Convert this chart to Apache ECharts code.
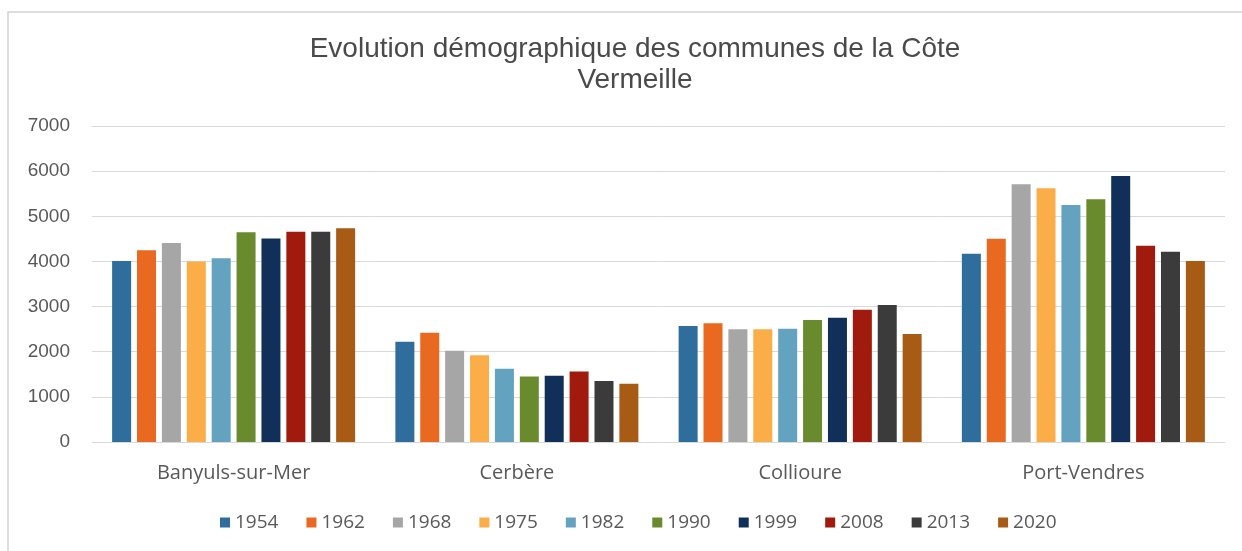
<!DOCTYPE html>
<html>
<head>
<meta charset="utf-8">
<script src="https://cdn.jsdelivr.net/npm/echarts@6/dist/echarts.min.js"></script>
<style>
  html, body { margin: 0; padding: 0; background: #fff; }
  #chart { width: 1242px; height: 551px; }
</style>
</head>
<body>
<div id="chart"></div>
<script>
// communes (axe des x)
const communes = ['Banyuls-sur-Mer', 'Cerbère', 'Collioure', 'Port-Vendres']
const annees = ['1954', '1962', '1968', '1975', '1982', '1990', '1999', '2008', '2013', '2020']
const couleurs = ['#2e6d9c', '#e8691f', '#a6a6a6', '#fbad47', '#64a3c0', '#6a8b2d', '#10305a', '#a01a0d', '#3b3b3b', '#a85b14']

// population par année, dans l'ordre des communes
const pop1954 = [4010, 2220, 2570, 4170]
const pop1962 = [4250, 2420, 2630, 4500]
const pop1968 = [4410, 2020, 2500, 5710]
const pop1975 = [4000, 1920, 2495, 5620]
const pop1982 = [4070, 1620, 2510, 5250]
const pop1990 = [4645, 1450, 2700, 5375]
const pop1999 = [4510, 1470, 2755, 5890]
const pop2008 = [4660, 1560, 2930, 4350]
const pop2013 = [4660, 1350, 3035, 4215]
const pop2020 = [4735, 1290, 2395, 4010]
const valeurs = [pop1954, pop1962, pop1968, pop1975, pop1982, pop1990, pop1999, pop2008, pop2013, pop2020]

const chart = echarts.init(document.getElementById('chart'))
chart.setOption({
  animation: false,
  backgroundColor: '#fff',
  color: couleurs,
  graphic: [
    {
      type: 'polyline',
      shape: { points: [[8, 551], [8, 12], [1242, 12]] },
      style: { stroke: '#d4d4d4', lineWidth: 1.5, fill: null }
    }
  ],
  title: {
    text: 'Evolution démographique des communes de la Côte\nVermeille',
    left: 630,
    textAlign: 'center',
    top: 29,
    textStyle: {
      fontFamily: 'Liberation Sans',
      fontSize: 28,
      fontWeight: 'normal',
      color: '#4a4a4a',
      lineHeight: 31
    }
  },
  legend: {
    data: annees,
    bottom: 14,
    left: 215,
    itemWidth: 10,
    itemHeight: 10,
    itemGap: 28,
    icon: 'rect',
    textStyle: { fontFamily: 'Open Sans', fontSize: 19, color: '#595959' }
  },
  grid: { left: 92, right: 17, top: 126, bottom: 109, containLabel: false },
  xAxis: {
    type: 'category',
    data: communes,
    axisTick: { show: false },
    axisLine: { lineStyle: { color: '#d9d9d9' } },
    axisLabel: { fontFamily: 'Open Sans', fontSize: 20, color: '#595959', margin: 21 }
  },
  yAxis: {
    type: 'value',
    min: 0,
    max: 7000,
    interval: 1000,
    axisLine: { show: false },
    axisTick: { show: false },
    splitLine: { lineStyle: { color: '#d9d9d9' } },
    axisLabel: {
      fontFamily: 'Liberation Sans',
      fontSize: 19,
      color: '#595959',
      margin: 22,
      formatter: v => String(v)
    }
  },
  series: annees.map((a, i) => ({
    name: a,
    type: 'bar',
    barWidth: 19,
    barGap: '31%',
    data: valeurs[i]
  }))
})
</script>
</body>
</html>
